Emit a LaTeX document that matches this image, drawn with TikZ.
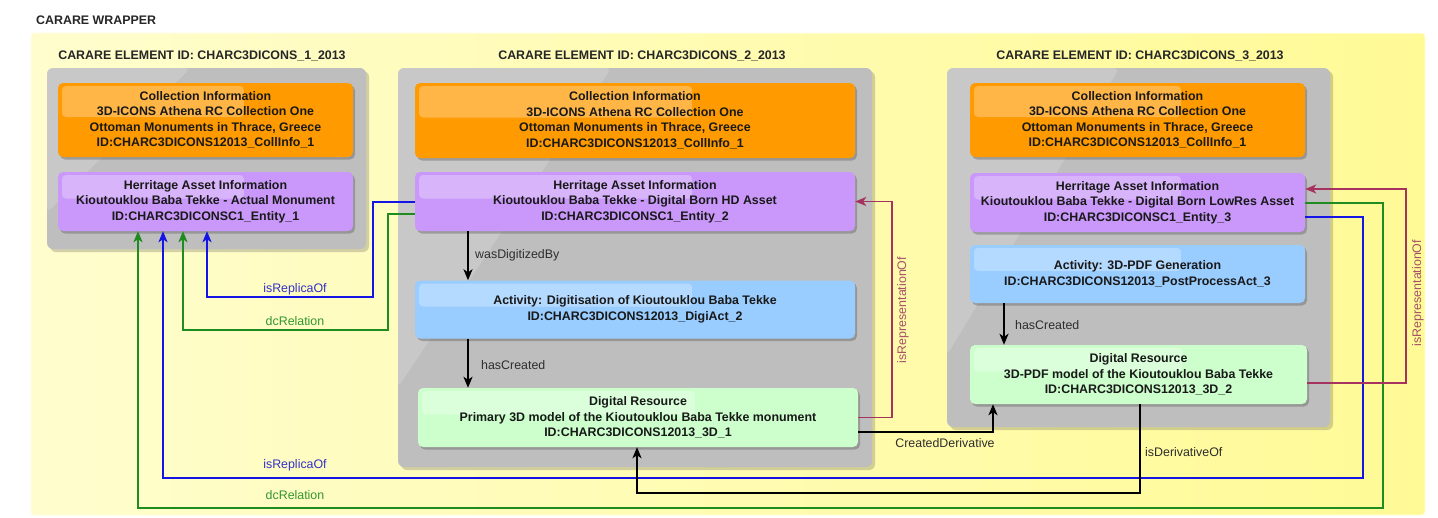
\documentclass[tikz,border=0pt]{standalone}
\usepackage{fontspec}
\setmainfont{Liberation Sans}
\usetikzlibrary{arrows.meta,shadows,calc}
\definecolor{wrapL}{RGB}{255,253,205}
\definecolor{wrapR}{RGB}{255,250,150}
\definecolor{greyc}{RGB}{190,190,190}
\definecolor{orangec}{RGB}{255,154,0}
\definecolor{purplec}{RGB}{201,152,250}
\definecolor{bluec}{RGB}{153,204,255}
\definecolor{greenc}{RGB}{204,255,204}
\definecolor{lnblue}{RGB}{20,20,230}
\definecolor{lngreen}{RGB}{30,140,30}
\definecolor{lnmar}{RGB}{165,50,95}
\definecolor{txblue}{RGB}{50,50,200}
\definecolor{txgreen}{RGB}{50,150,50}
\definecolor{txmar}{RGB}{165,80,105}
\definecolor{txgrey}{RGB}{45,45,45}
\begin{document}
\begin{tikzpicture}[x=1pt,y=-1pt,
  nfont/.style={font=\fontsize{12.4}{15.5}\selectfont\bfseries},
  lfont/.style={font=\fontsize{12.4}{15.5}\selectfont},
  gloss/.style={path picture={\fill[white,opacity=0.28,rounded corners=4pt]
      ([shift={(4pt,-3pt)}]path picture bounding box.north west) rectangle
      ($(path picture bounding box.west)!0.63!(path picture bounding box.east)+(0,3pt)$);}},
  box/.style={rectangle,rounded corners=5pt,align=center,inner sep=0pt,nfont,text=black!90,
      drop shadow={shadow xshift=2pt,shadow yshift=-2.5pt,opacity=0.35,fill=black!70},gloss},
  greybox/.style={rectangle,rounded corners=6pt,fill=greyc,inner sep=0pt,
      drop shadow={shadow xshift=3pt,shadow yshift=-3pt,opacity=0.25,fill=black!70},
      path picture={\fill[white,opacity=0.16]
        (path picture bounding box.north west) --
        ($(path picture bounding box.north west)!0.45!(path picture bounding box.north east)$) --
        ($(path picture bounding box.north west)!0.8!(path picture bounding box.south west)$) -- cycle;}},
  title/.style={nfont,text=black!85,inner sep=0pt},
  tip/.style={-{Stealth[length=11pt,width=9pt,inset=3pt]}},
  bl/.style={draw=lnblue,line width=2pt,tip},
  gl/.style={draw=lngreen,line width=2pt,tip},
  ml/.style={draw=lnmar,line width=1.8pt,tip},
  kl/.style={draw=black,line width=2pt,tip},
  lbl/.style={lfont,inner sep=0pt,text=txgrey},
]
\useasboundingbox (0,0) rectangle (1438,517);
\fill[white] (0,0) rectangle (1438,517);

% wrapper
\node[title,anchor=west] (wraptitle) at (36,20) {CARARE WRAPPER};
\node[rectangle,rounded corners=3pt,left color=wrapL,right color=wrapR,draw=wrapL!60!white,line width=1pt,
  minimum width=1394pt,minimum height=482pt,inner sep=0pt] (wrap) at (728,274) {};

% element 1
\node[title] (t1) at (202,56) {CARARE ELEMENT ID: CHARC3DICONS\_1\_2013};
\node[greybox,minimum width=319pt,minimum height=181pt] (el1) at (206.5,158.5) {};
\node[box,fill=orangec,minimum width=295pt,minimum height=74pt] (col1) at (205.5,120)
  {Collection Information\\3D-ICONS Athena RC Collection One\\Ottoman Monuments in Thrace, Greece\\ID:CHARC3DICONS12013\_CollInfo\_1};
\node[box,fill=purplec,minimum width=295pt,minimum height=59pt] (pur1) at (205.5,201.5)
  {Herritage Asset Information\\Kioutouklou Baba Tekke - Actual Monument\\ID:CHARC3DICONSC1\_Entity\_1};

% element 2
\node[title] (t2) at (642,56) {CARARE ELEMENT ID: CHARC3DICONS\_2\_2013};
\node[greybox,minimum width=474pt,minimum height=399pt] (el2) at (635,267.5) {};
\node[box,fill=orangec,minimum width=440pt,minimum height=75pt] (col2) at (635,120.5)
  {Collection Information\\3D-ICONS Athena RC Collection One\\Ottoman Monuments in Thrace, Greece\\ID:CHARC3DICONS12013\_CollInfo\_1};
\node[box,fill=purplec,minimum width=440pt,minimum height=59pt] (pur2) at (635,201.5)
  {Herritage Asset Information\\Kioutouklou Baba Tekke - Digital Born HD Asset\\ID:CHARC3DICONSC1\_Entity\_2};
\node[box,fill=bluec,minimum width=440pt,minimum height=58pt] (blu2) at (635,309.5)
  {Activity: Digitisation of Kioutouklou Baba Tekke\\ID:CHARC3DICONS12013\_DigiAct\_2};
\node[box,fill=greenc,minimum width=440pt,minimum height=59pt] (gr2) at (638,417.5)
  {Digital Resource\\Primary 3D model of the Kioutouklou Baba Tekke monument\\ID:CHARC3DICONS12013\_3D\_1};

% element 3
\node[title] (t3) at (1140,56) {CARARE ELEMENT ID: CHARC3DICONS\_3\_2013};
\node[greybox,minimum width=383pt,minimum height=359pt] (el3) at (1138.5,247.5) {};
\node[box,fill=orangec,minimum width=335pt,minimum height=74pt] (col3) at (1137.5,120)
  {Collection Information\\3D-ICONS Athena RC Collection One\\Ottoman Monuments in Thrace, Greece\\ID:CHARC3DICONS12013\_CollInfo\_1};
\node[box,fill=purplec,minimum width=335pt,minimum height=59pt] (pur3) at (1137.5,202.5)
  {Herritage Asset Information\\Kioutouklou Baba Tekke - Digital Born LowRes Asset\\ID:CHARC3DICONSC1\_Entity\_3};
\node[box,fill=bluec,minimum width=335pt,minimum height=58pt] (blu3) at (1137.5,274)
  {Activity: 3D-PDF Generation\\ID:CHARC3DICONS12013\_PostProcessAct\_3};
\node[box,fill=greenc,minimum width=337pt,minimum height=59pt] (gr3) at (1138.5,374.5)
  {Digital Resource\\3D-PDF model of the Kioutouklou Baba Tekke\\ID:CHARC3DICONS12013\_3D\_2};

% inner connectors element 2 -> element 1
\draw[bl] (pur2.west) -- (373,201.5) -- (373,297) -- (207,297) -- ([xshift=1.5pt]pur1.south);
\draw[gl] ([yshift=-12.5pt]pur2.west) -- (388,214) -- (388,330) -- (183,330) -- ([xshift=-22.5pt]pur1.south);
\node[lbl,text=txblue] (lrep1) at (295,289) {isReplicaOf};
\node[lbl,text=txgreen] (ldc1) at (295,321) {dcRelation};

% outer connectors element 3 -> element 1
\draw[bl] ([yshift=-14.5pt]pur3.east) -- (1363,217) -- (1363,478) -- (163,478) -- ([xshift=-42.5pt]pur1.south);
\draw[gl] (pur3.east) -- (1383,202.5) -- (1383,508) -- (138,508) -- ([xshift=-67.5pt]pur1.south);
\node[lbl,text=txblue] (lrep2) at (295,465) {isReplicaOf};
\node[lbl,text=txgreen] (ldc2) at (295,495) {dcRelation};

% element 2 internal
\draw[kl] ([xshift=-167pt]pur2.south) -- ([xshift=-167pt]blu2.north);
\node[lbl,anchor=west] (lwd) at (475,255) {wasDigitizedBy};
\draw[kl] ([xshift=-167pt]blu2.south) -- ([xshift=-170pt]gr2.north);
\node[lbl,anchor=west] (lhc2) at (481,365) {hasCreated};
\draw[ml] (gr2.east) -- (892,417.5) -- (892,201.5) -- (pur2.east);
\node[lbl,text=txmar,rotate=90] (lrp2) at (903,310) {isRepresentationOf};

% element 3 internal
\draw[kl] ([xshift=-133.5pt]blu3.south) -- ([xshift=-134.5pt]gr3.north);
\node[lbl,anchor=west] (lhc3) at (1015,325) {hasCreated};
\draw[ml] ([yshift=-8.5pt]gr3.east) -- (1406,383) -- (1406,189) -- ([yshift=13.5pt]pur3.east);
\node[lbl,text=txmar,rotate=90] (lrp3) at (1418,293) {isRepresentationOf};

% derivatives
\draw[kl] ([yshift=-14.5pt]gr2.east) -- (993,432) -- ([xshift=-145.5pt]gr3.south);
\node[lbl] (lcd) at (945,443) {CreatedDerivative};
\draw[kl] ([xshift=1.5pt]gr3.south) -- (1140,493) -- (637,493) -- ([xshift=-1pt]gr2.south);
\node[lbl,anchor=west] (lder) at (1145,452) {isDerivativeOf};
\end{tikzpicture}
\end{document}
